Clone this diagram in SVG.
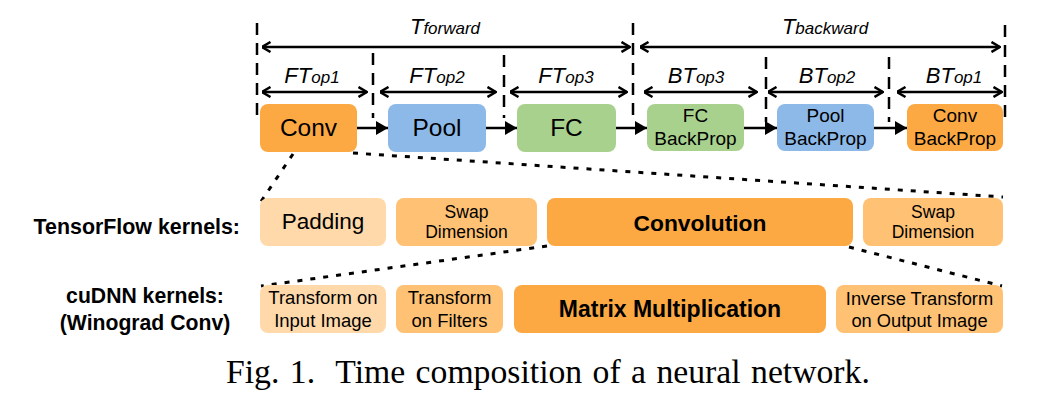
<svg xmlns="http://www.w3.org/2000/svg" width="1060" height="401" viewBox="0 0 1060 401">
<style>
.t{font-family:"Liberation Sans",Arial,sans-serif;fill:#000;text-anchor:middle}
.it{font-family:"Liberation Sans",Arial,sans-serif;font-style:italic;fill:#000;text-anchor:middle}
.b{font-family:"Liberation Sans",Arial,sans-serif;font-weight:bold;fill:#000}
.vd{stroke:#000;stroke-width:2.5;stroke-dasharray:12 8;fill:none}
.dot{stroke:#000;stroke-width:3;stroke-dasharray:5 8;fill:none}
.dim{stroke:#000;stroke-width:2.5;fill:none}
.flow{stroke:#000;stroke-width:2.5;fill:none}
.cap{font-family:"Liberation Serif","Times New Roman",serif;font-size:33.7px;word-spacing:2px;fill:#000}
</style>
<defs>
<marker id="chev" viewBox="0 0 10 12" refX="9.5" refY="6" markerWidth="10" markerHeight="12" markerUnits="userSpaceOnUse" orient="auto-start-reverse">
<path d="M1,1 L9.5,6 L1,11" fill="none" stroke="#000" stroke-width="2.5"/>
</marker>
<marker id="tri" viewBox="0 0 12 14" refX="12" refY="7" markerWidth="12" markerHeight="14" markerUnits="userSpaceOnUse" orient="auto">
<path d="M0,0 L12,7 L0,14 Z" fill="#000"/>
</marker>
</defs>
<rect width="1060" height="401" fill="#fff"/>

<g id="guides">
<line class="vd" x1="257" y1="23" x2="257" y2="120"/>
<line class="vd" x1="373" y1="53" x2="373" y2="118"/>
<line class="vd" x1="504" y1="55" x2="504" y2="118"/>
<line class="vd" x1="633" y1="23" x2="633" y2="118"/>
<line class="vd" x1="766" y1="57" x2="766" y2="122"/>
<line class="vd" x1="889" y1="57" x2="889" y2="122"/>
<line class="vd" x1="1005" y1="25" x2="1005" y2="122"/>
</g>

<g id="timings">
<line class="dim" x1="262" y1="47" x2="630" y2="47" marker-start="url(#chev)" marker-end="url(#chev)"/>
<text class="it" x="445" y="34" font-size="22">T<tspan font-size="17">forward</tspan></text>
<line class="dim" x1="640" y1="47" x2="1000" y2="47" marker-start="url(#chev)" marker-end="url(#chev)"/>
<text class="it" x="825" y="34" font-size="22">T<tspan font-size="17">backward</tspan></text>

<line class="dim" x1="262" y1="92" x2="367" y2="92" marker-start="url(#chev)" marker-end="url(#chev)"/>
<text class="it" x="312" y="83" font-size="22">FT<tspan font-size="17">op1</tspan></text>
<line class="dim" x1="380" y1="92" x2="496" y2="92" marker-start="url(#chev)" marker-end="url(#chev)"/>
<text class="it" x="437" y="83" font-size="22">FT<tspan font-size="17">op2</tspan></text>
<line class="dim" x1="510" y1="92" x2="627" y2="92" marker-start="url(#chev)" marker-end="url(#chev)"/>
<text class="it" x="566" y="83" font-size="22">FT<tspan font-size="17">op3</tspan></text>
<line class="dim" x1="644" y1="92" x2="757" y2="92" marker-start="url(#chev)" marker-end="url(#chev)"/>
<text class="it" x="696" y="83" font-size="22">BT<tspan font-size="17">op3</tspan></text>
<line class="dim" x1="768" y1="92" x2="883" y2="92" marker-start="url(#chev)" marker-end="url(#chev)"/>
<text class="it" x="827" y="83" font-size="22">BT<tspan font-size="17">op2</tspan></text>
<line class="dim" x1="897" y1="92" x2="1002" y2="92" marker-start="url(#chev)" marker-end="url(#chev)"/>
<text class="it" x="954" y="83" font-size="22">BT<tspan font-size="17">op1</tspan></text>
</g>

<g id="connectors">
<line class="flow" x1="357" y1="128" x2="388" y2="128" marker-end="url(#tri)"/>
<line class="flow" x1="486" y1="128" x2="517" y2="128" marker-end="url(#tri)"/>
<line class="flow" x1="616" y1="128" x2="647" y2="128" marker-end="url(#tri)"/>
<line class="flow" x1="744" y1="128" x2="777" y2="128" marker-end="url(#tri)"/>
<line class="flow" x1="874" y1="128" x2="907" y2="128" marker-end="url(#tri)"/>
<line class="dot" x1="293" y1="154" x2="260" y2="203"/>
<line class="dot" x1="353" y1="153" x2="1003" y2="197"/>
<line class="dot" x1="547" y1="246" x2="261" y2="286"/>
<line class="dot" x1="849" y1="247" x2="1002" y2="286"/>
</g>

<g id="conv">
<rect x="260" y="104" width="97" height="48" rx="8" fill="#FDA943"/>
<text class="t" x="308.5" y="136" font-size="24.5">Conv</text>
</g>
<g id="pool">
<rect x="388" y="104" width="98" height="48" rx="8" fill="#8DB9E8"/>
<text class="t" x="437" y="136" font-size="24.5">Pool</text>
</g>
<g id="fc">
<rect x="517" y="104" width="99" height="48" rx="8" fill="#A9D18E"/>
<text class="t" x="566.5" y="136" font-size="24.5">FC</text>
</g>
<g id="fc-backprop">
<rect x="647" y="104" width="97" height="47" rx="8" fill="#A9D18E"/>
<text class="t" x="695.5" y="122" font-size="19">FC</text>
<text class="t" x="695.5" y="145" font-size="19">BackProp</text>
</g>
<g id="pool-backprop">
<rect x="777" y="104" width="97" height="47" rx="8" fill="#8DB9E8"/>
<text class="t" x="825.5" y="122" font-size="19">Pool</text>
<text class="t" x="825.5" y="145" font-size="19">BackProp</text>
</g>
<g id="conv-backprop">
<rect x="907" y="104" width="96" height="47" rx="8" fill="#FDA943"/>
<text class="t" x="955" y="122" font-size="19">Conv</text>
<text class="t" x="955" y="145" font-size="19">BackProp</text>
</g>

<g id="tf-label">
<text class="b" x="240" y="234" font-size="21.4" text-anchor="end">TensorFlow kernels:</text>
</g>
<g id="cudnn-label">
<text class="b" x="145" y="303" font-size="21.2" text-anchor="middle">cuDNN kernels:</text>
<text class="b" x="145" y="330" font-size="21.2" text-anchor="middle">(Winograd Conv)</text>
</g>

<g id="padding">
<rect x="260" y="198" width="126" height="48" rx="8" fill="#FFD9AA"/>
<text class="t" x="323" y="229" font-size="22.5">Padding</text>
</g>
<g id="swap1">
<rect x="396" y="198" width="141" height="48" rx="8" fill="#FFC173"/>
<text class="t" x="466.5" y="218" font-size="17.5">Swap</text>
<text class="t" x="466.5" y="238" font-size="17.5">Dimension</text>
</g>
<g id="convolution">
<rect x="547" y="198" width="306" height="48" rx="8" fill="#FDA943"/>
<text class="t" x="700" y="231" font-size="22.8" font-weight="bold">Convolution</text>
</g>
<g id="swap2">
<rect x="863" y="198" width="140" height="48" rx="8" fill="#FFC173"/>
<text class="t" x="933" y="218" font-size="17.5">Swap</text>
<text class="t" x="933" y="238" font-size="17.5">Dimension</text>
</g>

<g id="transform-input">
<rect x="260" y="285" width="126" height="48" rx="8" fill="#FFD9AA"/>
<text class="t" x="323" y="304" font-size="18.5">Transform on</text>
<text class="t" x="323" y="327" font-size="18.5">Input Image</text>
</g>
<g id="transform-filters">
<rect x="396" y="285" width="107" height="48" rx="8" fill="#FFC173"/>
<text class="t" x="449.5" y="304" font-size="18.5">Transform</text>
<text class="t" x="449.5" y="327" font-size="18.5">on Filters</text>
</g>
<g id="matmul">
<rect x="514" y="285" width="312" height="48" rx="8" fill="#FDA943"/>
<text class="t" x="670" y="317" font-size="23" font-weight="bold">Matrix Multiplication</text>
</g>
<g id="inverse-transform">
<rect x="836" y="285" width="167" height="48" rx="8" fill="#FFC173"/>
<text class="t" x="919.5" y="305" font-size="18.3">Inverse Transform</text>
<text class="t" x="919.5" y="327" font-size="18.3">on Output Image</text>
</g>

<text class="cap" x="226" y="383">Fig. 1.&#160; Time composition of a neural network.</text>
</svg>
